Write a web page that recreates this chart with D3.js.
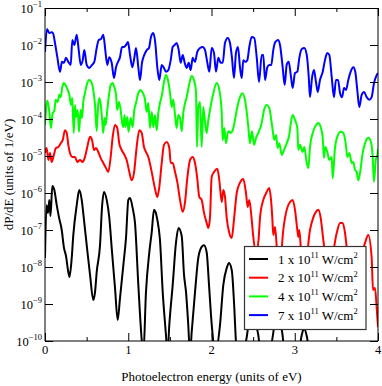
<!DOCTYPE html>
<html>
<head>
<meta charset="utf-8">
<script src="https://d3js.org/d3.v7.min.js"></script>
<style>
  body { margin: 0; background: #fff; }
  svg { display: block; }
  text { font-family: "Liberation Serif", "Times New Roman", serif; fill: #000; white-space: pre; }
</style>
</head>
<body>
<div id="chart"></div>
<script>
// photoelectron spectra (energy in eV, dP/dE in 1/eV)
var energyBlack = [
  0, .018, .036, .052, .066, .088, .112, .141, .168, .201,
  .228, .252, .280, .294, .321, .340, .381, .412, .441, .468,
  .501, .541, .580, .601, .621, .661, .685, .709, .741, .772,
  .801, .841, .873, .901, .941, .973, 1.001, 1.021, 1.053, 1.081,
  1.121, 1.162, 1.181, 1.213, 1.253, 1.282, 1.309, 1.327, 1.349, 1.381,
  1.414, 1.453, 1.471, 1.493, 1.534, 1.574, 1.604, 1.642, 1.670, 1.694,
  1.721, 1.742, 1.762, 1.802, 1.841, 1.882, 1.910, 1.942, 1.970, 1.994,
  2.022, 2.042, 2.102, 2.142, 2.183, 2.210, 2.243, 2.274, 2.291, 2.312,
  2.366, 2.435, 2.462, 2.492, 2.523, 2.562, 2.595, 2.679, 2.742, 2.775,
  2.805, 2.850, 2.883, 3.039, 3.084, 3.111, 3.144, 3.183, 3.303, 3.664,
  4.0
];
var dpdeBlack = [
  1.75e-8, 4.7e-7, 2.9e-7, 6.5e-7, 2.4e-7, 1.55e-6, 1.2e-6, 4.7e-7, 2.2e-7, 1.0e-7,
  3.3e-8, 2.0e-8, 7.3e-9, 5.4e-9, 1.75e-8, 7.3e-8, 4.7e-7, 1.2e-6, 6.5e-7, 1.9e-7,
  3.9e-8, 6.1e-9, 1.28e-9, 2.1e-9, 7.3e-9, 3.9e-8, 4.2e-7, 1.06e-6, 6.5e-7, 2.2e-7,
  3.3e-8, 2.7e-9, 3.7e-10, 1.45e-9, 1.13e-8, 6.1e-8, 6.5e-7, 7.3e-7, 3.9e-7, 1.55e-7,
  3.3e-9, 1.06e-10, 4.2e-11, 2.1e-9, 2.5e-8, 8.8e-8, 3.5e-7, 3.1e-7, 1.9e-7, 5.4e-8,
  2.1e-9, 1.45e-10, 4.2e-11, 2.7e-10, 3.3e-9, 4.7e-8, 1.13e-7, 6.9e-8, 6.1e-9, 2.1e-9,
  2.7e-10, 4.2e-11, 1.75e-10, 2.1e-9, 1.75e-8, 3.5e-8, 3.9e-8, 2.5e-8, 3.3e-9, 5.0e-10,
  9.4e-11, 4.2e-11, 2.7e-10, 3.3e-9, 9.4e-9, 1.28e-8, 8.3e-9, 7.8e-10, 1.2e-10, 3.1e-11,
  4.2e-11, 2.0e-10, 1.28e-9, 9.4e-10, 3.7e-10, 1.45e-10, 4.2e-11, 4.2e-11, 1.65e-10, 6.9e-10,
  5.0e-10, 1.65e-10, 4.2e-11, 4.2e-11, 1.45e-10, 2.2e-10, 1.37e-10, 4.2e-11, 2.2e-11, 1.65e-11,
  1.65e-11
];

var energyRed = [
  0, .020, .040, .060, .080, .100, .132, .160, .189, .213,
  .240, .261, .280, .300, .328, .360, .388, .420, .453, .480,
  .508, .541, .565, .589, .613, .640, .669, .700, .733, .760,
  .789, .813, .841, .868, .892, .921, .949, .981, 1.013, 1.041,
  1.069, 1.101, 1.133, 1.162, 1.189, 1.213, 1.241, 1.270, 1.301, 1.330,
  1.349, 1.373, 1.402, 1.429, 1.462, 1.493, 1.510, 1.534, 1.562, 1.589,
  1.622, 1.654, 1.682, 1.709, 1.742, 1.774, 1.802, 1.829, 1.853, 1.882,
  1.910, 1.942, 1.962, 1.982, 2.002, 2.030, 2.070, 2.094, 2.123, 2.142,
  2.162, 2.183, 2.214, 2.243, 2.270, 2.303, 2.342, 2.382, 2.414, 2.435,
  2.454, 2.483, 2.502, 2.535, 2.565, 2.583, 2.622, 2.663, 2.694, 2.715,
  2.730, 2.742, 2.763, 2.787, 2.823, 2.862, 2.903, 2.943, 2.975, 3.003,
  3.031, 3.043, 3.055, 3.075, 3.123, 3.183, 3.223, 3.255, 3.283, 3.312,
  3.343, 3.411, 3.504, 3.544, 3.576, 3.604, 3.628, 3.724, 3.844, 3.883,
  3.924, 3.940, 3.964, 3.982, 4.0
];
var dpdeRed = [
  1.2e-5, 1.65e-5, 7.8e-6, 1.2e-5, 6.9e-6, 9.4e-6, 1.65e-5, 1.75e-5, 2.2e-5, 2.7e-5,
  5.0e-5, 4.2e-5, 2.0e-5, 1.2e-5, 9.4e-6, 9.4e-6, 6.9e-6, 7.8e-6, 6.9e-6, 9.4e-6,
  1.75e-5, 3.3e-5, 2.7e-5, 1.45e-5, 1.65e-5, 1.28e-5, 8.8e-6, 6.5e-6, 4.7e-6, 3.7e-6,
  9.4e-6, 3.3e-5, 6.9e-5, 5.7e-5, 2.2e-5, 1.45e-5, 1.13e-5, 7.8e-6, 3.7e-6, 2.2e-6,
  3.5e-6, 1.75e-5, 5.0e-5, 4.2e-5, 1.75e-5, 1.28e-5, 9.4e-6, 5.0e-6, 2.2e-6, 1.06e-6,
  7.8e-7, 1.45e-6, 6.5e-6, 2.0e-5, 2.4e-5, 1.65e-5, 6.5e-6, 6.5e-6, 3.7e-6, 2.0e-6,
  6.5e-7, 3.1e-7, 5.7e-7, 2.5e-6, 7.8e-6, 9.4e-6, 6.5e-6, 2.5e-6, 7.8e-7, 6.5e-7,
  2.9e-7, 1.55e-7, 1.13e-7, 2.2e-7, 2.7e-6, 3.7e-6, 4.5e-6, 2.2e-6, 5.7e-7, 1.2e-6,
  7.8e-7, 2.1e-7, 8.3e-8, 6.1e-8, 1.9e-7, 1.0e-6, 1.9e-6, 2.4e-6, 1.0e-6, 4.2e-7,
  6.5e-7, 1.9e-7, 6.5e-8, 2.5e-8, 5.4e-8, 2.2e-7, 6.5e-7, 1.06e-6, 1.37e-6, 6.5e-7,
  2.2e-7, 7.3e-8, 1.2e-7, 2.9e-8, 1.13e-8, 1.0e-7, 3.5e-7, 5.7e-7, 6.5e-7, 3.5e-7,
  1.0e-7, 6.5e-8, 1.0e-7, 2.9e-8, 9.4e-9, 1.0e-7, 2.2e-7, 3.1e-7, 3.5e-7, 2.1e-7,
  5.4e-8, 7.3e-9, 8.3e-8, 1.55e-7, 1.55e-7, 8.3e-8, 2.9e-8, 5.0e-9, 4.5e-8, 7.3e-8,
  1.75e-8, 2.4e-9, 2.7e-9, 9.4e-10, 2.4e-10
];

var energyGreen = [
  0, .018, .030, .052, .072, .092, .112, .129, .153, .172,
  .189, .208, .228, .252, .273, .292, .312, .328, .345, .360,
  .372, .393, .408, .429, .444, .460, .480, .501, .532, .561,
  .580, .601, .621, .637, .652, .673, .688, .700, .715, .729,
  .748, .769, .789, .813, .832, .853, .868, .889, .909, .925,
  .941, .955, .967, .989, 1.003, 1.029, 1.053, 1.073, 1.093, 1.121,
  1.150, 1.174, 1.198, 1.222, 1.241, 1.261, 1.282, 1.301, 1.321, 1.342,
  1.361, 1.381, 1.405, 1.429, 1.453, 1.477, 1.502, 1.522, 1.541, 1.562,
  1.582, 1.601, 1.622, 1.642, 1.661, 1.682, 1.702, 1.730, 1.762, 1.790,
  1.814, 1.826, 1.841, 1.862, 1.882, 1.901, 1.922, 1.942, 1.962, 1.982,
  2.018, 2.062, 2.094, 2.123, 2.135, 2.154, 2.174, 2.202, 2.231, 2.255,
  2.282, 2.303, 2.342, 2.370, 2.402, 2.430, 2.442, 2.462, 2.486, 2.511,
  2.535, 2.562, 2.603, 2.631, 2.663, 2.694, 2.723, 2.735, 2.754, 2.775,
  2.795, 2.815, 2.843, 2.871, 2.903, 2.934, 2.955, 2.975, 3.003, 3.031,
  3.043, 3.063, 3.096, 3.115, 3.144, 3.164, 3.183, 3.216, 3.255, 3.283,
  3.315, 3.336, 3.351, 3.367, 3.391, 3.415, 3.444, 3.456, 3.483, 3.511,
  3.552, 3.583, 3.612, 3.632, 3.656, 3.684, 3.703, 3.724, 3.744, 3.763,
  3.784, 3.816, 3.844, 3.883, 3.916, 3.936, 3.952, 3.973, 3.992, 4.0
];
var dpdeGreen = [
  6.9e-5, 2.5e-4, 3.1e-4, 1.55e-4, 5.7e-5, 1.45e-4, 1.65e-4, 3.3e-4, 2.9e-4, 4.5e-4,
  3.9e-4, 7.3e-4, 9.4e-4, 7.8e-4, 6.1e-4, 4.5e-4, 2.4e-4, 3.7e-4, 4.2e-5, 2.4e-4,
  1.13e-4, 1.75e-4, 4.5e-5, 1.75e-4, 1.06e-4, 2.9e-4, 5.0e-4, 8.3e-4, 1.13e-3, 9.4e-4,
  6.1e-4, 2.4e-4, 4.7e-5, 2.1e-4, 3.7e-4, 2.1e-4, 8.3e-5, 4.2e-5, 1.06e-4, 6.9e-5,
  1.75e-4, 4.5e-4, 8.3e-4, 9.4e-4, 7.3e-4, 4.5e-4, 1.75e-4, 2.9e-4, 1.75e-4, 8.3e-5,
  6.1e-5, 1.28e-4, 6.1e-5, 1.13e-4, 4.5e-5, 1.06e-4, 6.1e-5, 1.75e-4, 2.7e-4, 5.0e-4,
  6.1e-4, 5.0e-4, 3.7e-4, 1.55e-4, 2.7e-4, 5.7e-5, 1.55e-4, 6.1e-5, 1.28e-4, 5.0e-5,
  1.45e-4, 2.7e-4, 4.5e-4, 1.0e-3, 1.55e-3, 1.13e-3, 5.0e-4, 2.1e-4, 3.3e-4, 1.28e-4,
  5.7e-5, 1.28e-4, 1.06e-4, 4.7e-5, 1.45e-4, 2.7e-4, 3.9e-4, 8.3e-4, 1.45e-3, 1.13e-3,
  5.4e-4, 1.75e-5, 2.0e-4, 2.9e-4, 1.75e-5, 2.1e-4, 8.3e-5, 4.2e-5, 9.4e-5, 1.75e-4,
  4.5e-4, 9.4e-4, 6.1e-4, 1.45e-4, 2.7e-5, 5.7e-5, 2.2e-5, 4.7e-5, 4.2e-5, 5.0e-5,
  9.4e-5, 1.75e-4, 3.9e-4, 5.0e-4, 3.3e-4, 1.13e-4, 6.1e-5, 2.2e-5, 4.7e-5, 2.0e-5,
  3.1e-5, 4.2e-5, 7.8e-5, 1.75e-4, 2.4e-4, 2.0e-4, 7.8e-5, 5.0e-5, 2.7e-5, 3.7e-5,
  1.65e-5, 2.2e-5, 1.06e-5, 1.45e-5, 2.2e-5, 3.7e-5, 8.3e-5, 1.28e-4, 9.4e-5, 5.7e-5,
  1.45e-5, 2.0e-5, 1.28e-5, 1.75e-5, 6.5e-6, 4.7e-6, 1.75e-5, 4.2e-5, 6.9e-5, 7.8e-5,
  5.7e-5, 3.1e-5, 8.8e-6, 1.75e-5, 1.28e-5, 7.8e-6, 9.4e-6, 2.5e-6, 1.65e-5, 3.3e-5,
  4.5e-5, 4.2e-5, 2.2e-5, 9.4e-6, 1.2e-5, 6.5e-6, 6.9e-6, 4.2e-6, 3.7e-6, 2.2e-6,
  3.5e-6, 1.2e-5, 2.2e-5, 3.1e-5, 2.4e-5, 9.4e-6, 2.0e-6, 7.8e-6, 1.06e-5, 1.55e-5
];

var energyBlue = [
  0, .024, .052, .080, .096, .12, .148, .18, .204, .228,
  .252, .28, .309, .328, .352, .381, .405, .429, .453, .472,
  .501, .532, .565, .592, .621, .645, .673, .700, .724, .748,
  .772, .801, .829, .853, .877, .901, .925, .949, .973, .997,
  1.021, 1.049, 1.073, 1.093, 1.121, 1.141, 1.165, 1.193, 1.222, 1.249,
  1.273, 1.301, 1.325, 1.349, 1.373, 1.402, 1.429, 1.453, 1.481, 1.510,
  1.534, 1.558, 1.582, 1.606, 1.630, 1.654, 1.678, 1.702, 1.726, 1.750,
  1.774, 1.802, 1.829, 1.862, 1.894, 1.922, 1.950, 1.974, 2.002, 2.030,
  2.054, 2.082, 2.111, 2.135, 2.162, 2.195, 2.222, 2.246, 2.270, 2.294,
  2.318, 2.342, 2.363, 2.382, 2.406, 2.430, 2.454, 2.483, 2.514, 2.543,
  2.571, 2.603, 2.622, 2.643, 2.670, 2.694, 2.718, 2.742, 2.766, 2.799,
  2.823, 2.855, 2.879, 2.903, 2.927, 2.955, 2.975, 3.003, 3.031, 3.055,
  3.084, 3.115, 3.144, 3.168, 3.183, 3.207, 3.231, 3.255, 3.276, 3.303,
  3.336, 3.363, 3.391, 3.415, 3.444, 3.471, 3.495, 3.520, 3.544, 3.568,
  3.592, 3.616, 3.643, 3.672, 3.703, 3.727, 3.751, 3.775, 3.804, 3.832,
  3.864, 3.895, 3.924, 3.952, 3.985, 4.0
];
var dpdeBlue = [
  6.5e-3, 2.7e-2, 2.1e-2, 2.2e-2, 2.1e-2, 1.13e-2, 4.7e-3, 1.9e-3, 3.5e-3, 3.3e-3,
  4.5e-3, 3.5e-3, 2.9e-3, 1.37e-2, 1.0e-2, 1.9e-2, 7.3e-3, 2.9e-3, 3.9e-3, 7.3e-3,
  2.9e-3, 2.4e-3, 2.9e-3, 3.5e-3, 8.3e-3, 1.37e-2, 1.45e-2, 1.9e-2, 7.3e-3, 2.9e-3,
  4.7e-3, 3.3e-3, 1.28e-3, 2.5e-3, 3.5e-3, 4.7e-3, 8.8e-3, 8.8e-3, 1.0e-2, 1.2e-2,
  5.4e-3, 2.5e-3, 4.5e-3, 8.3e-3, 2.5e-3, 1.13e-3, 3.3e-3, 5.4e-3, 7.3e-3, 8.3e-3,
  1.65e-2, 2.1e-2, 1.13e-2, 2.5e-3, 1.13e-3, 2.9e-3, 2.4e-3, 1.9e-3, 2.1e-3, 3.9e-3,
  8.8e-3, 1.0e-2, 1.13e-2, 7.3e-3, 3.3e-3, 5.4e-3, 3.3e-3, 2.4e-3, 3.3e-3, 2.1e-3,
  4.5e-3, 3.5e-3, 6.5e-3, 8.3e-3, 8.8e-3, 7.3e-3, 3.3e-3, 1.9e-3, 8.3e-3, 6.1e-3,
  1.9e-3, 4.5e-3, 3.3e-3, 3.3e-3, 1.13e-2, 1.55e-2, 1.13e-2, 4.5e-3, 1.28e-3, 6.1e-3,
  8.8e-3, 2.5e-3, 1.28e-3, 3.9e-3, 3.5e-3, 3.9e-3, 8.8e-3, 1.65e-2, 1.55e-2, 4.7e-3,
  1.0e-3, 5.4e-3, 5.4e-3, 1.13e-3, 2.5e-3, 2.9e-3, 2.9e-3, 7.3e-3, 1.2e-2, 1.37e-2,
  1.0e-2, 2.5e-3, 8.3e-4, 2.9e-3, 3.5e-3, 1.37e-3, 6.9e-4, 1.75e-3, 1.9e-3, 4.5e-3,
  7.8e-3, 8.3e-3, 5.4e-3, 1.37e-3, 3.9e-4, 1.28e-3, 2.1e-3, 1.0e-3, 5.4e-4, 1.13e-3,
  1.9e-3, 3.9e-3, 6.1e-3, 5.4e-3, 1.37e-3, 3.9e-4, 1.13e-3, 1.13e-3, 5.0e-4, 3.9e-4,
  6.9e-4, 6.1e-4, 1.13e-3, 1.9e-3, 2.5e-3, 1.9e-3, 6.1e-4, 2.1e-4, 4.5e-4, 5.4e-4,
  3.9e-4, 3.3e-4, 3.9e-4, 9.4e-4, 1.55e-3, 1.75e-3
];

var intensities = ["1", "2", "4", "7"];
var colors = ["#000000", "#ff0000", "#00ff00", "#0000ff"];
var xMajor = [0, 1, 2, 3, 4];
var xMinor = [0.5, 1.5, 2.5, 3.5];
var yExps = [-1, -2, -3, -4, -5, -6, -7, -8, -9, -10];

var series = [
  {e: energyBlack, v: dpdeBlack},
  {e: energyRed, v: dpdeRed},
  {e: energyGreen, v: dpdeGreen},
  {e: energyBlue, v: dpdeBlue}
];

var W = 382, H = 386;
var L = 45, R = 378, T = 8, B = 341;

var x = d3.scaleLinear().domain([0, 4]).range([L, R]);
var y = d3.scaleLog().domain([1e-10, 1e-1]).range([B, T]);

var svg = d3.select("#chart").append("svg")
  .attr("width", W)
  .attr("height", H);

svg.append("defs").append("clipPath").attr("id", "plotclip")
  .append("rect").attr("x", L).attr("y", T).attr("width", R - L).attr("height", B - T);

var line = d3.line()
  .x(function(d) { return x(d[0]); })
  .y(function(d) { return y(d[1]); })
  .curve(d3.curveMonotoneX);

svg.append("g").attr("clip-path", "url(#plotclip)")
  .selectAll("path")
  .data(series)
  .enter().append("path")
    .attr("d", function(s) { return line(d3.zip(s.e, s.v)); })
    .attr("fill", "none")
    .attr("stroke", function(s, i) { return colors[i]; })
    .attr("stroke-width", 2)
    .attr("stroke-linejoin", "round");

// frame
svg.append("line").attr("x1", L).attr("x2", R).attr("y1", T + 0.5).attr("y2", T + 0.5).attr("stroke", "#000");
svg.append("line").attr("x1", L).attr("x2", R).attr("y1", B).attr("y2", B).attr("stroke", "#000");
svg.append("line").attr("x1", L).attr("x2", L).attr("y1", T).attr("y2", B).attr("stroke", "#000");
svg.append("line").attr("x1", R).attr("x2", R).attr("y1", T).attr("y2", B).attr("stroke", "#000");

// inward ticks on all four sides
function ticks(axis, tx, ty) {
  var g = svg.append("g").attr("transform", "translate(" + tx + "," + ty + ")").call(axis);
  g.select(".domain").remove();
  g.selectAll("line").attr("stroke", "#000");
}
ticks(d3.axisBottom(x).tickValues(xMajor).tickSize(-8).tickFormat(""), 0, B);
ticks(d3.axisBottom(x).tickValues(xMinor).tickSize(-4).tickFormat(""), 0, B);
ticks(d3.axisTop(x).tickValues(xMajor).tickSize(-8).tickFormat(""), 0, T);
ticks(d3.axisTop(x).tickValues(xMinor).tickSize(-4).tickFormat(""), 0, T);
ticks(d3.axisLeft(y).tickValues(yExps.map(function(e) { return Math.pow(10, e); })).tickSize(-8).tickFormat(""), L, 0);
ticks(d3.axisRight(y).tickValues(yExps.map(function(e) { return Math.pow(10, e); })).tickSize(-8).tickFormat(""), R, 0);

// x tick labels
svg.selectAll("text.xl")
  .data(xMajor)
  .enter().append("text")
    .attr("class", "xl")
    .attr("x", function(d) { return x(d); })
    .attr("y", B + 13)
    .attr("text-anchor", "middle")
    .style("font-size", "12.5px")
    .text(function(d) { return d; });

// y tick labels 10^n
var yl = svg.selectAll("text.yl")
  .data(yExps)
  .enter().append("text")
    .attr("class", "yl")
    .attr("x", L - 3)
    .attr("y", function(d) { return y(Math.pow(10, d)) + 4.5; })
    .attr("text-anchor", "end")
    .style("font-size", "12.5px");
yl.append("tspan").text("10");
yl.append("tspan").attr("dy", -5.5).style("font-size", "8.5px")
  .text(function(d) { return "\u2212" + (-d); });

// axis titles
svg.append("text")
  .attr("x", (L + R) / 2)
  .attr("y", 381)
  .attr("text-anchor", "middle")
  .style("font-size", "13px")
  .text("Photoelectron energy (units of eV)");

svg.append("text")
  .attr("transform", "translate(13," + ((T + B) / 2) + ") rotate(-90)")
  .attr("text-anchor", "middle")
  .style("font-size", "13px")
  .text("dP/dE (units of 1/eV)");

// legend
var lg = svg.append("g");
lg.append("rect")
  .attr("x", 244.5).attr("y", 246.5)
  .attr("width", 121.5).attr("height", 83)
  .attr("fill", "#fff")
  .attr("stroke", "#333")
  .attr("stroke-width", 1.2);

var rows = lg.selectAll("g.row")
  .data(intensities)
  .enter().append("g")
    .attr("class", "row")
    .attr("transform", function(d, i) { return "translate(0," + (259 + i * 18.7) + ")"; });

rows.append("line")
  .attr("x1", 249).attr("x2", 268)
  .attr("stroke", function(d, i) { return colors[i]; })
  .attr("stroke-width", 2);

var lt = rows.append("text")
  .attr("x", 278)
  .attr("y", 4.5)
  .style("font-size", "13px");
lt.append("tspan").text(function(d) { return d + " x 10"; });
lt.append("tspan").attr("dy", -5.5).style("font-size", "8.5px").text("11");
lt.append("tspan").attr("dy", 5.5).text(" W/cm");
lt.append("tspan").attr("dy", -5.5).style("font-size", "8.5px").text("2");
</script>
</body>
</html>
